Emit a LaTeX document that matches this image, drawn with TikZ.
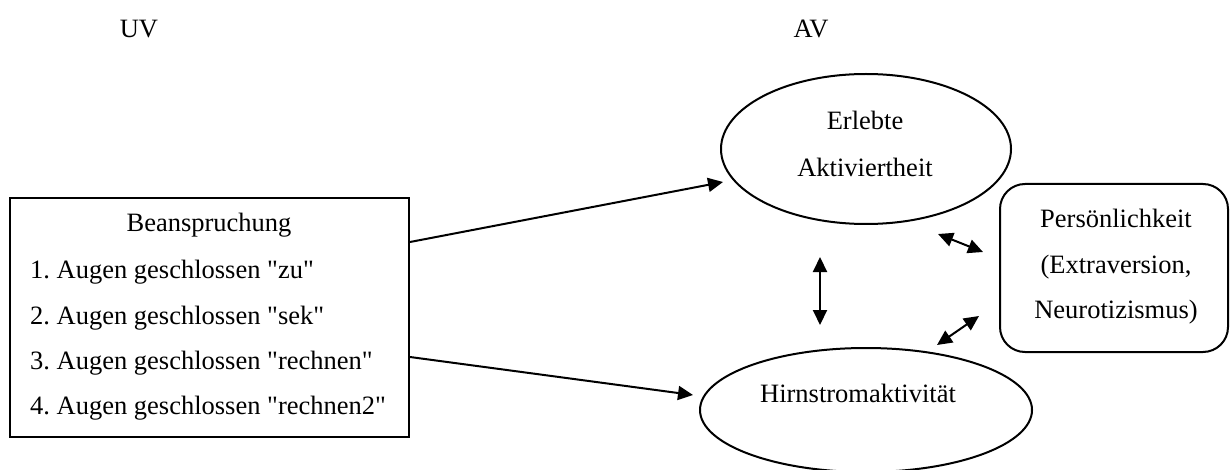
\documentclass[tikz,border=0pt]{standalone}
\usepackage{fontspec}
\setmainfont{Liberation Serif}
\usetikzlibrary{shapes.geometric,arrows.meta}
\newcommand{\dq}{\textquotedbl}
\begin{document}
\begin{tikzpicture}[x=1pt,y=-1pt,
  every node/.style={font=\fontsize{26.5}{46}\selectfont\frenchspacing, inner sep=0pt},
  shape line/.style={draw, line width=2pt},
  arr/.style={line width=2pt, -{Triangle[length=15pt,width=14pt]}},
  darr/.style={line width=2pt, {Triangle[length=15pt,width=14pt]}-{Triangle[length=15pt,width=14pt]}}]
\useasboundingbox (0,0) rectangle (1230,470);
% headings
\node (uv) at (139,29) {UV};
\node (av) at (811,29) {AV};
% left box
\node[shape line, minimum width=399pt, minimum height=239pt] (box) at (209.5,317.5) {};
\node (t0) at (209,225) {Beanspruchung};
\node[anchor=west] (t1) at (30,272) {1. Augen geschlossen \dq zu\dq};
\node[anchor=west] (t2) at (30,318) {2. Augen geschlossen \dq sek\dq};
\node[anchor=west] (t3) at (30,363) {3. Augen geschlossen \dq rechnen\dq};
\node[anchor=west] (t4) at (30,408) {4. Augen geschlossen \dq rechnen2\dq};
% ellipses
\node[shape line, ellipse, minimum width=290pt, minimum height=150pt] (erl) at (866,149) {};
\node (erl1) at (865,120) {Erlebte};
\node (erl2) at (865,167) {Aktiviertheit};
\node[shape line, ellipse, minimum width=332pt, minimum height=124pt] (hirn) at (866,410) {};
\node (hirnt) at (858,393) {Hirnstromaktivität};
% personality box
\node[shape line, rounded corners=25pt, minimum width=228pt, minimum height=168pt] (pers) at (1114,268) {};
\node (p1) at (1116,218) {Persönlichkeit};
\node (p2) at (1116,267) {(Extraversion,};
\node (p3) at (1116,312) {Neurotizismus)};
% connector ends
\coordinate (e1) at (723,182);
\coordinate (e2) at (693,395);
\coordinate (v1) at (820,257);
\coordinate (v2) at (820,325);
\coordinate (d1a) at (938,234);
\coordinate (d1b) at (983,252);
\coordinate (d2a) at (937,345);
\coordinate (d2b) at (979,316);
% connectors
\draw[arr] ([yshift=75.5pt]box.east) -- (e1);
\draw[arr] ([yshift=-39.5pt]box.east) -- (e2);
\draw[darr] (v1) -- (v2);
\draw[darr] (d1a) -- (d1b);
\draw[darr] (d2a) -- (d2b);
\end{tikzpicture}
\end{document}
